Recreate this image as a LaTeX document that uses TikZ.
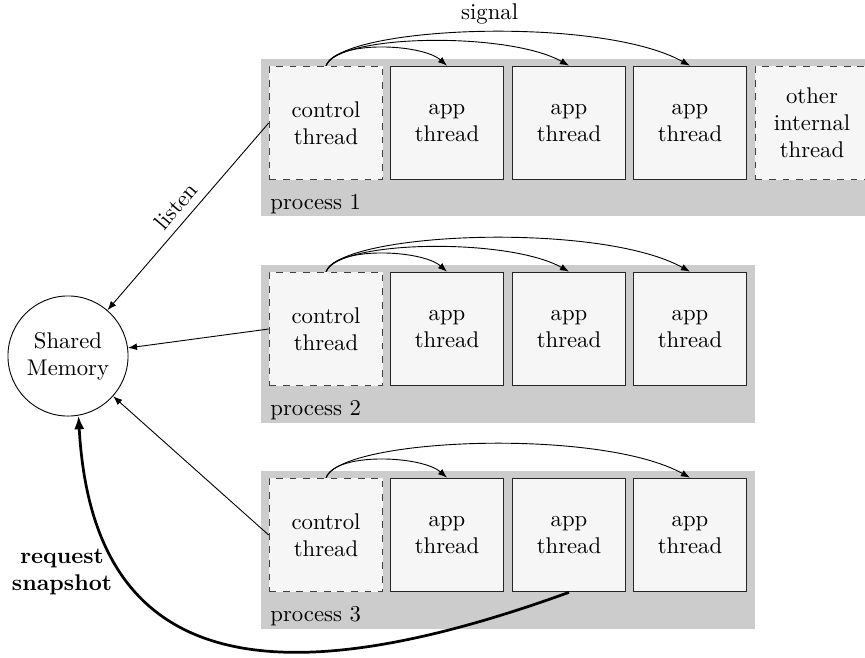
\documentclass[tikz,border=0pt]{standalone}
\usetikzlibrary{arrows.meta}
\begin{document}
\begin{tikzpicture}[x=0.4405pt,y=-0.4405pt,
  procbg/.style={fill=gray!40, draw=none},
  thr/.style={draw=black!85, fill=gray!7, line width=0.5pt, minimum size=50pt, inner sep=0pt, align=center},
  ctl/.style={thr, dashed, draw=black!75},
  plabel/.style={anchor=base west, inner sep=0pt},
  sig/.style={-{Latex[length=4pt,width=3pt]}},
  lis/.style={-{Latex[length=4pt,width=3pt]}},
  snap/.style={line width=1.2pt, -{Latex[length=6pt,width=4.5pt]}}
]
\clip (0,0) rectangle (865,657);
\fill[white] (0,0) rectangle (865,657);
% process backgrounds
\fill[procbg] (261,59) rectangle (877,216);
\fill[procbg] (261,265) rectangle (755,423);
\fill[procbg] (261,471) rectangle (755,629);
% process 1
\node[ctl] (c1) at (326,123) {control\\thread};
\node[thr] (a11) at (447,123) {app\\thread};
\node[thr] (a12) at (569,123) {app\\thread};
\node[thr] (a13) at (690,123) {app\\thread};
\node[ctl] (o1) at (812,123) {other\\internal\\thread};
\node[plabel] (p1) at (270,209) {process 1};
% process 2
\node[ctl] (c2) at (326,329) {control\\thread};
\node[thr] (a21) at (447,329) {app\\thread};
\node[thr] (a22) at (569,329) {app\\thread};
\node[thr] (a23) at (690,329) {app\\thread};
\node[plabel] (p2) at (270,415) {process 2};
% process 3
\node[ctl] (c3) at (326,535) {control\\thread};
\node[thr] (a31) at (447,535) {app\\thread};
\node[thr] (a32) at (569,535) {app\\thread};
\node[thr] (a33) at (690,535) {app\\thread};
\node[plabel] (p3) at (270,621) {process 3};
% shared memory
\node[circle, draw, minimum size=52.9pt, inner sep=0pt, align=center] (mem) at (68,356) {Shared\\Memory};
% signals
\draw[sig] (c1.north) .. controls +(10,-26) and +(-25,-22) .. (a11.north);
\draw[sig] (c1.north) .. controls +(13,-32) and +(-60,-34) .. (a12.north);
\draw[sig] (c1.north) .. controls +(16,-40) and +(-90,-50) .. node[pos=0.52, above] {signal} (a13.north);
\draw[sig] (c2.north) .. controls +(10,-26) and +(-25,-22) .. (a21.north);
\draw[sig] (c2.north) .. controls +(13,-32) and +(-60,-34) .. (a22.north);
\draw[sig] (c2.north) .. controls +(16,-40) and +(-90,-50) .. (a23.north);
\draw[sig] (c3.north) .. controls +(10,-26) and +(-25,-22) .. (a31.north);
\draw[sig] (c3.north) .. controls +(16,-40) and +(-90,-50) .. (a33.north);
% listen
\draw[lis] (c1.west) -- node[midway, sloped, above] {listen} (mem);
\draw[lis] (c2.west) -- (mem);
\draw[lis] (c3.west) -- (mem);
% request snapshot
\draw[snap] (a32.south) .. controls +(-301,109) and +(14,255) .. (mem.-80);
\node[align=center, font=\bfseries] (rs) at (62,572) {request\\snapshot};
\end{tikzpicture}
\end{document}
